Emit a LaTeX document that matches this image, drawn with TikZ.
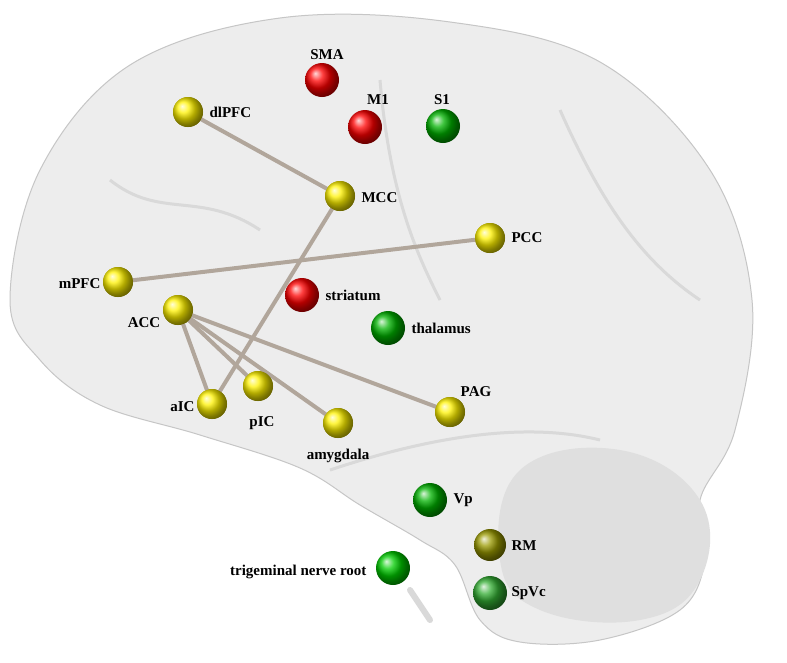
\documentclass[tikz,border=0pt]{standalone}
\usepackage{fontspec}
\setmainfont{Liberation Serif}
\begin{document}
\begin{tikzpicture}[x=1pt,y=-1pt,
  yb/.style={circle,minimum size=30pt,inner sep=0pt,shading=ball,ball color=yellow!90!orange},
  rb/.style={circle,minimum size=34pt,inner sep=0pt,shading=ball,ball color=red},
  gb/.style={circle,minimum size=34pt,inner sep=0pt,shading=ball,ball color=green!70!black},
  ob/.style={circle,minimum size=32pt,inner sep=0pt,shading=ball,ball color=yellow!60!black},
  lab/.style={font=\bfseries\fontsize{15}{17}\selectfont},
  con/.style={line width=4pt,draw=brown!25!gray!70}]
\useasboundingbox (0,0) rectangle (787,662);
\fill[white] (0,0) rectangle (787,662);
\draw[gray!45,fill=gray!14,line width=1pt] plot[smooth cycle,tension=0.6] coordinates{
 (10,300) (40,170) (130,65) (280,18) (450,22) (600,62) (710,170) (752,300) (735,430)
 (700,500) (705,560) (680,610) (600,640) (520,642) (480,620) (455,565) (420,540)
 (360,505) (300,468) (200,435) (100,405) (40,360)};
\fill[gray!25] plot[smooth cycle,tension=0.7] coordinates{(520,470)(620,450)(700,500)(700,580)(640,620)(540,610)(500,560)};
\draw[gray!30,line width=6pt,line cap=round] (410,590) -- (430,620);
\draw[gray!30,line width=3pt] (110,180) .. controls (160,220) and (200,190) .. (260,230);
\draw[gray!30,line width=3pt] (380,80) .. controls (390,200) and (420,260) .. (440,300);
\draw[gray!30,line width=3pt] (560,110) .. controls (600,200) and (640,260) .. (700,300);
\draw[gray!30,line width=3pt] (330,470) .. controls (420,440) and (520,420) .. (600,440);

\node[yb] (dlpfc) at (188,112) {};
\node[yb] (mcc) at (340,196) {};
\node[yb] (pcc) at (490,238) {};
\node[yb] (mpfc) at (118,282) {};
\node[yb] (acc) at (178,310) {};
\node[yb] (aic) at (212,404) {};
\node[yb] (pic) at (258,386) {};
\node[yb] (amy) at (338,423) {};
\node[yb] (pag) at (450,412) {};

\draw[con] (dlpfc.center) -- (mcc.center);
\draw[con] (mcc.center) -- (aic.center);
\draw[con] (mpfc.center) -- (pcc.center);
\draw[con] (acc.center) -- (aic.center);
\draw[con] (acc.center) -- (pic.center);
\draw[con] (acc.center) -- (amy.center);
\draw[con] (acc.center) -- (pag.center);

\foreach \n in {dlpfc,mcc,pcc,mpfc,acc,aic,pic,amy,pag}
  \node[yb] at (\n) {};

\node[rb] (sma) at (322,80) {};
\node[rb] (m1) at (365,127) {};
\node[gb] (s1) at (443,126) {};
\node[rb] (str) at (302,295) {};
\node[gb] (thal) at (388,328) {};
\node[gb] (vp) at (430,500) {};
\node[ob] (rm) at (490,545) {};
\node[gb,ball color=green!60!black!80] (spvc) at (490,593) {};
\node[gb,ball color=green!80!black] (tri) at (393,568) {};

\node[lab] (lsma) at (327,55) {SMA};
\node[lab] (lm1) at (378,100) {M1};
\node[lab] (ls1) at (442,100) {S1};
\node[lab,anchor=west] (ldl) at (206,112) {dlPFC};
\node[lab,anchor=west] (lmcc) at (358,198) {MCC};
\node[lab,anchor=west] (lpcc) at (508,238) {PCC};
\node[lab,anchor=east] (lmp) at (104,284) {mPFC};
\node[lab] (lacc) at (144,323) {ACC};
\node[lab,anchor=west] (lstr) at (322,295) {striatum};
\node[lab,anchor=west] (lth) at (408,328) {thalamus};
\node[lab,anchor=east] (laic) at (198,407) {aIC};
\node[lab] (lpic) at (262,423) {pIC};
\node[lab] (lamy) at (338,456) {amygdala};
\node[lab] (lpag) at (476,392) {PAG};
\node[lab,anchor=west] (lvp) at (450,500) {Vp};
\node[lab,anchor=west] (lrm) at (508,546) {RM};
\node[lab,anchor=west] (lsp) at (508,593) {SpVc};
\node[lab,anchor=east] (ltri) at (370,572) {trigeminal nerve root};
\end{tikzpicture}
\end{document}
